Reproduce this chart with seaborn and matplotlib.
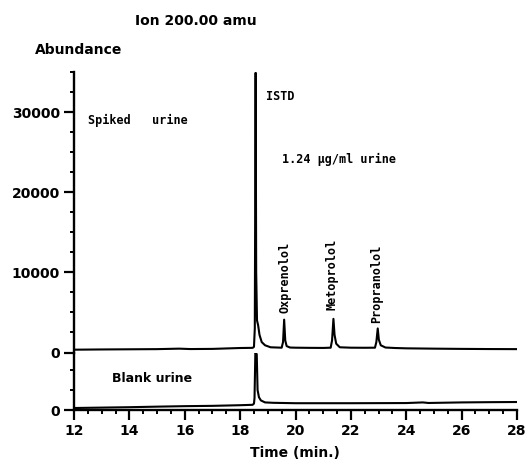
import matplotlib
matplotlib.use("Agg")
import matplotlib.pyplot as plt
from matplotlib.ticker import MultipleLocator, FixedLocator
import seaborn as sns

# ---------------- data ----------------
spiked_time = [12.0, 13.0, 14.0, 15.0, 15.8, 16.2, 17.0, 18.0, 18.45, 18.50, 18.53,
               18.56, 18.58, 18.61, 18.65, 18.70, 18.78, 18.90, 19.10, 19.50, 19.55,
               19.59, 19.63, 19.68, 19.80, 20.0, 20.5, 21.0, 21.27, 21.32, 21.37,
               21.41, 21.47, 21.60, 22.0, 22.5, 22.87, 22.92, 22.97, 23.01, 23.08,
               23.25, 23.6, 24.0, 25.0, 26.0, 27.0, 28.0]
spiked_abund = [350, 380, 400, 420, 480, 430, 450, 560, 580, 700, 3000,
                34900, 10000, 4000, 3400, 2200, 1300, 900, 650, 600, 1300,
                4100, 1500, 800, 620, 600, 580, 570, 600, 1500, 4200,
                2200, 1100, 650, 600, 590, 600, 1300, 3000, 1600, 900,
                620, 560, 520, 480, 450, 430, 420]

blank_time = [12.0, 13.0, 14.0, 15.0, 16.0, 17.0, 18.0, 18.45, 18.50, 18.52, 18.55,
              18.60, 18.63, 18.68, 18.75, 18.90, 19.2, 20.0, 22.0, 24.0, 24.6,
              24.8, 26.0, 27.0, 28.0]
blank_abund = [250, 300, 350, 420, 480, 520, 600, 650, 800, 1500, 7150,
               7000, 2500, 1600, 1200, 950, 900, 850, 850, 870, 950,
               880, 950, 980, 1000]

top_yticks = [0, 10000, 20000, 30000]
x_ticks = [12, 14, 16, 18, 20, 22, 24, 26, 28]
peak_names = ["Oxprenolol", "Metoprolol", "Propranolol"]
peak_label_x = [19.62, 21.31, 22.93]
peak_label_y = [4900, 5300, 3700]

# ---------------- style ----------------
sns.set_style("ticks")
plt.rcParams['font.family'] = ['DejaVu Sans']
plt.rcParams['font.weight'] = 'bold'
plt.rcParams['text.color'] = 'black'
plt.rcParams['axes.labelcolor'] = 'black'
plt.rcParams['xtick.color'] = 'black'
plt.rcParams['ytick.color'] = 'black'
plt.rcParams['axes.edgecolor'] = 'black'

W, H = 527, 462
fig = plt.figure(figsize=(W / 100, H / 100), dpi=100)

x0, x1 = 74, 517
y_top, y_mid, y_bot = 72, 352.5, 410
ax_top = fig.add_axes([x0 / W, 1 - y_mid / H, (x1 - x0) / W, (y_mid - y_top) / H])
ax_bot = fig.add_axes([x0 / W, 1 - y_bot / H, (x1 - x0) / W, (y_bot - y_mid) / H])

lw = 1.5
sns.lineplot(x=spiked_time, y=spiked_abund, ax=ax_top, color='black', lw=lw,
             estimator=None, sort=False)
sns.lineplot(x=blank_time, y=blank_abund, ax=ax_bot, color='black', lw=lw,
             estimator=None, sort=False)

for ax in (ax_top, ax_bot):
    ax.set_xlim(12, 28)
    ax.set_xlabel('')
    ax.set_ylabel('')
    ax.patch.set_alpha(0)
    for s in ('top', 'right'):
        ax.spines[s].set_visible(False)
    ax.spines['left'].set_linewidth(1.7)

ax_top.set_ylim(0, 35000)
ax_top.spines['bottom'].set_visible(False)
ax_top.yaxis.set_major_locator(FixedLocator(top_yticks))
ax_top.yaxis.set_minor_locator(MultipleLocator(2500))
ax_top.set_yticklabels([str(v) for v in top_yticks])
ax_top.tick_params(axis='x', which='both', bottom=False, labelbottom=False)

ax_bot.set_ylim(0, 7200)
ax_bot.spines['bottom'].set_linewidth(1.7)
ax_bot.yaxis.set_major_locator(FixedLocator([0]))
ax_bot.yaxis.set_minor_locator(FixedLocator([2500, 5000]))
ax_bot.set_yticklabels(['0'])
ax_bot.xaxis.set_major_locator(FixedLocator(x_ticks))
ax_bot.xaxis.set_minor_locator(MultipleLocator(0.5))
ax_bot.set_xticklabels([str(v) for v in x_ticks])

for ax in (ax_top, ax_bot):
    ax.tick_params(axis='both', which='major', direction='out', length=7, width=1.6,
                   pad=3, labelsize=10, colors='black')
    ax.tick_params(axis='both', which='minor', direction='out', length=3, width=1.4,
                   colors='black')
    for lab in ax.get_xticklabels() + ax.get_yticklabels():
        lab.set_fontweight('bold')

# ---------------- text ----------------
fig.text(196 / W, 1 - 21 / H, 'Ion 200.00 amu', ha='center', va='center',
         fontsize=10, fontweight='bold', color='black')
fig.text(35 / W, 1 - 50 / H, 'Abundance', ha='left', va='center',
         fontsize=10, fontweight='bold', color='black')
fig.text(295 / W, 1 - 453 / H, 'Time (min.)', ha='center', va='center',
         fontsize=10, fontweight='bold', color='black')

mono = dict(family='DejaVu Sans Mono', fontweight='bold', fontsize=8.5, color='black')
ax_top.text(12.5, 28900, 'Spiked   urine', ha='left', va='center', **mono)
ax_top.text(18.94, 31900, 'ISTD', ha='left', va='center', **mono)
ax_top.text(19.51, 24100, '1.24 µg/ml urine', ha='left', va='center', **mono)
for name, px, py in zip(peak_names, peak_label_x, peak_label_y):
    ax_top.text(px, py, name, rotation=90, ha='center', va='bottom', **mono)

ax_bot.text(13.37, 3900, 'Blank urine', ha='left', va='center',
            fontsize=9, fontweight='bold', color='black')

fig.savefig('out.png', dpi=100)
